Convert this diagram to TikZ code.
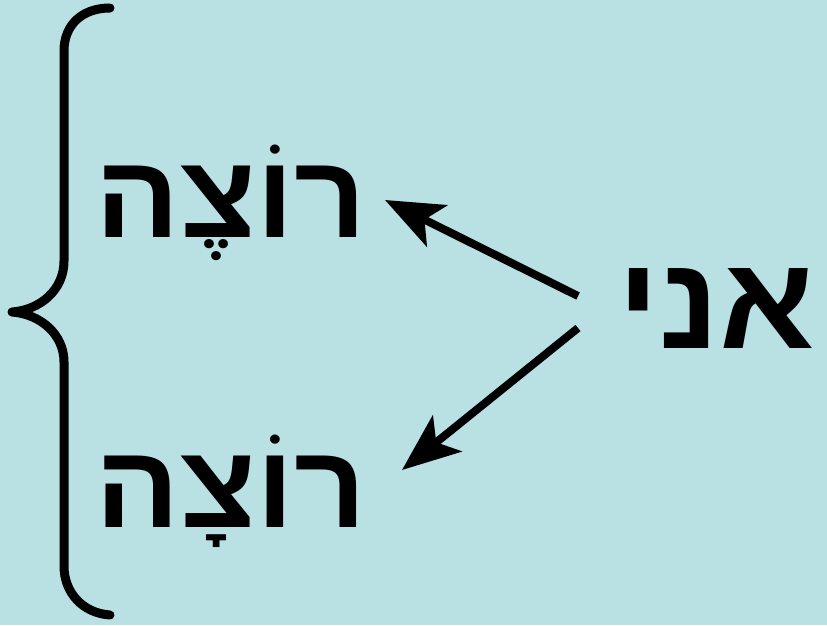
\documentclass[tikz,border=0pt]{standalone}
\usepackage{fontspec}
\TeXXeTstate=1
\newfontfamily\hebfont[Script=Hebrew,FakeStretch=1.06]{Liberation Sans}
\usetikzlibrary{arrows.meta}
\definecolor{bg}{HTML}{B9E0E3}
\tikzset{
  word/.style={inner sep=0pt, anchor=base, font=\hebfont\bfseries\fontsize{118}{130}\selectfont},
  arr/.style={line width=8pt, -{Stealth[length=58pt,width=46pt,inset=14pt]}},
  brace/.style={line width=9pt, line cap=round, line join=round}
}
\begin{document}
\begin{tikzpicture}[x=1pt,y=-1pt]
\fill[bg] (0,0) rectangle (827,625);
\useasboundingbox (0,0) rectangle (827,625);
\node[word] (w1) at (231,237) {\beginR רוֹצֶה\endR};
\node[word] (w2) at (231,527) {\beginR רוֹצָה\endR};
\node[word, font=\hebfont\bfseries\fontsize{132}{140}\selectfont] (ani) at (716,348) {\beginR אני\endR};
\draw[arr] ([shift={(-138,-52)}]ani.base) -- ([shift={(154,-37)}]w1.base);
\draw[arr] ([shift={(-138,-20)}]ani.base) -- ([shift={(171,-57)}]w2.base);
\draw[brace] (110,8) .. controls (82,8) and (64,25) .. (64,51)
  -- (64,261) .. controls (64,290) and (40,310) .. (12,312)
  .. controls (40,314) and (64,334) .. (64,362)
  -- (64,566) .. controls (64,592) and (82,613) .. (110,615);
\end{tikzpicture}
\end{document}
